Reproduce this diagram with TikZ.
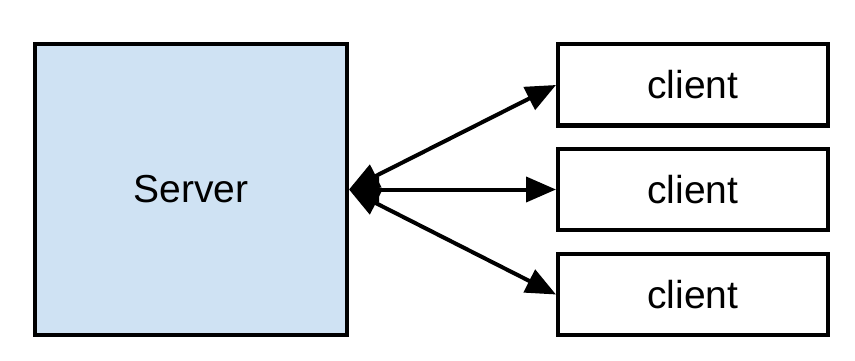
\documentclass[tikz,border=0pt]{standalone}
\usepackage{fontspec}
\setmainfont{Liberation Sans}
\usetikzlibrary{arrows.meta}
\definecolor{serverblue}{HTML}{CFE2F3}
\tikzset{
  box/.style={draw=black, line width=4pt, inner sep=0pt, anchor=center,
    font=\fontsize{39}{46}\selectfont},
  serverbox/.style={box, fill=serverblue, minimum width=312pt, minimum height=291pt},
  clientbox/.style={box, fill=white, minimum width=270pt, minimum height=81pt},
  link/.style={line width=4pt,
    {Triangle[length=30pt,width=25pt]}-{Triangle[length=30pt,width=25pt]}}
}
\begin{document}
\begin{tikzpicture}[x=1pt,y=-1pt]
\useasboundingbox[fill=white] (0,0) rectangle (855,361);
\node[serverbox] (server) at (191,189.5) {Server};
\node[clientbox] (c1) at (693,85) {client};
\node[clientbox] (c2) at (693,189.5) {client};
\node[clientbox] (c3) at (693,294.5) {client};
\draw[link] (server.east) -- (c1.west);
\draw[link] (server.east) -- (c2.west);
\draw[link] (server.east) -- (c3.west);
\end{tikzpicture}
\end{document}
